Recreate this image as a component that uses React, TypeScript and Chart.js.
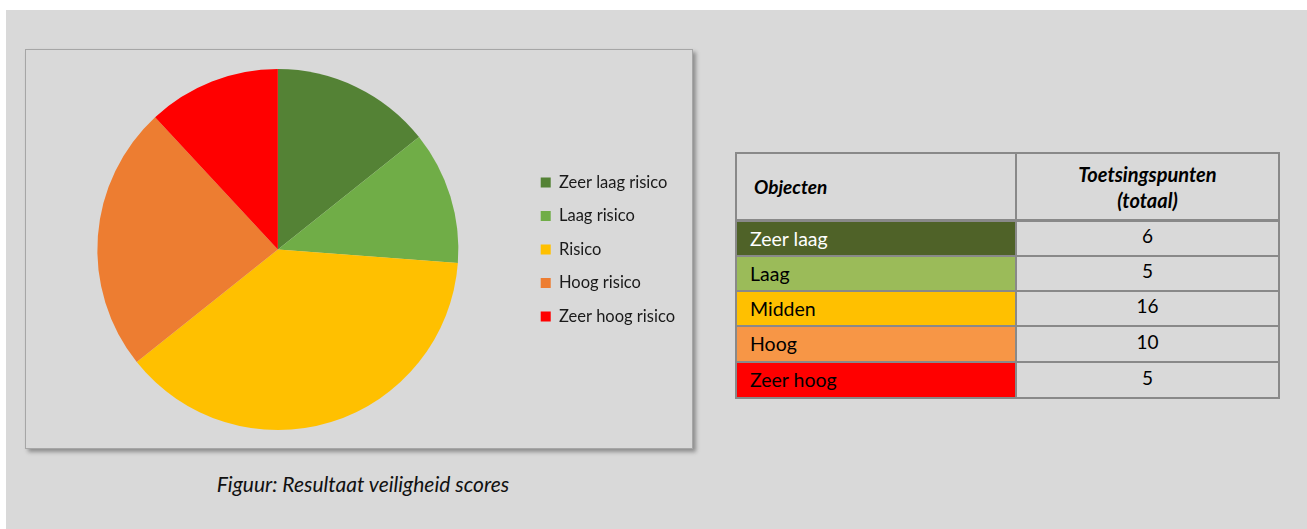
import React, { useEffect, useRef } from "react";
import { Chart, registerables } from "chart.js";

Chart.register(...registerables);

const categories = ["Zeer laag risico", "Laag risico", "Risico", "Hoog risico", "Zeer hoog risico"];
const values = [6, 5, 16, 10, 5];
const sliceColors = ["#548235", "#70ad47", "#ffc000", "#ed7d31", "#ff0000"];

const tableLabels = ["Zeer laag", "Laag", "Midden", "Hoog", "Zeer hoog"];
const tableColors = ["#4f6228", "#9bbb59", "#ffc000", "#f79646", "#ff0000"];
const tableTextColors = ["#ffffff", "#000000", "#000000", "#000000", "#000000"];

const FONT = "Lato, 'Open Sans', sans-serif";

function PieChart() {
  const ref = useRef<HTMLCanvasElement | null>(null);
  useEffect(() => {
    if (!ref.current) return;
    const chart = new Chart(ref.current, {
      type: "pie",
      data: {
        labels: categories,
        datasets: [
          {
            data: values,
            backgroundColor: sliceColors,
            borderWidth: 0,
          },
        ],
      },
      options: {
        animation: false,
        responsive: false,
        maintainAspectRatio: false,
        layout: { padding: { left: 6, right: 7, top: 19, bottom: 18 } },
        plugins: {
          tooltip: { enabled: false },
          legend: {
            position: "right",
            align: "center",
            labels: {
              boxWidth: 10,
              boxHeight: 10,
              padding: 17,
              color: "#1a1a1a",
              font: { family: FONT, size: 16.5 },
            },
          },
        },
      },
    });
    return () => chart.destroy();
  }, []);
  return (
    <canvas
      ref={ref}
      width={666}
      height={398}
      style={{ position: "absolute", left: 26, top: 50, width: 666, height: 398 }}
    />
  );
}

export default function App() {
  const rowTops = [220, 255, 290, 325, 361];
  return (
    <div style={{ position: "fixed", left: 0, top: 0, width: 1307, height: 529, background: "#ffffff", overflow: "hidden" }}>
      <div style={{ position: "absolute", left: 6, top: 10, right: 0, bottom: 0, background: "#d9d9d9" }} />
      <div
        style={{
          position: "absolute",
          left: 25,
          top: 49,
          width: 666,
          height: 398,
          border: "1px solid #a6a6a6",
          boxShadow: "3px 3px 4px rgba(0,0,0,0.35)",
          background: "#d9d9d9",
        }}
      />
      <PieChart />
      <div
        style={{
          position: "absolute",
          left: 113,
          width: 500,
          top: 471,
          textAlign: "center",
          fontFamily: FONT,
          fontStyle: "italic",
          fontSize: 21,
          color: "#111",
        }}
      >
        Figuur: Resultaat veiligheid scores
      </div>
      <div style={{ position: "absolute", left: 735, top: 152, width: 545, height: 247, background: "#898989" }}>
        <div
          style={{
            position: "absolute",
            left: 2,
            top: 2,
            width: 278,
            height: 65,
            background: "#d9d9d9",
            fontFamily: FONT,
            fontWeight: 700,
            fontStyle: "italic",
            fontSize: 19,
            display: "flex",
            alignItems: "center",
            paddingLeft: 17,
            boxSizing: "border-box",
            color: "#000",
          }}
        >
          Objecten
        </div>
        <div
          style={{
            position: "absolute",
            left: 282,
            top: 2,
            width: 261,
            height: 65,
            background: "#d9d9d9",
            fontFamily: FONT,
            fontWeight: 700,
            fontStyle: "italic",
            fontSize: 20,
            display: "flex",
            alignItems: "center",
            justifyContent: "center",
            textAlign: "center",
            lineHeight: "26px",
            color: "#000",
          }}
        >
          Toetsingspunten
          <br />
          (totaal)
        </div>
        {tableLabels.map((lab, i) => {
          const top = rowTops[i] - 152 + 2;
          const h = (i < 4 ? rowTops[i + 1] : 397) - rowTops[i] - 2;
          return (
            <React.Fragment key={lab}>
              <div
                style={{
                  position: "absolute",
                  left: 2,
                  top,
                  width: 278,
                  height: h,
                  background: tableColors[i],
                  color: tableTextColors[i],
                  fontFamily: FONT,
                  fontSize: 19.5,
                  paddingLeft: 13,
                  boxSizing: "border-box",
                  lineHeight: h + "px",
                }}
              >
                {lab}
              </div>
              <div
                style={{
                  position: "absolute",
                  left: 282,
                  top,
                  width: 261,
                  height: h,
                  background: "#d9d9d9",
                  color: "#000",
                  fontFamily: FONT,
                  fontSize: 19,
                  textAlign: "center",
                  lineHeight: h - 5 + "px",
                }}
              >
                {values[i]}
              </div>
            </React.Fragment>
          );
        })}
      </div>
    </div>
  );
}
